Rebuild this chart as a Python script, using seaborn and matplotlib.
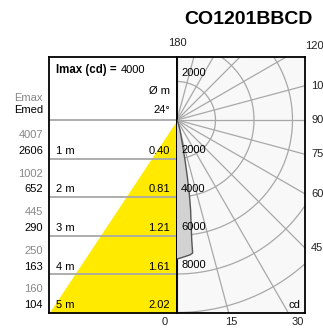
import matplotlib.pyplot as plt
import numpy as np
import pandas as pd
import seaborn as sns

sns.set_theme(style='white')
plt.rcParams['font.family'] = ['Liberation Sans', 'DejaVu Sans']
plt.rcParams['text.color'] = 'black'

# duomenys
pavadinimas = 'CO1201BBCD'
imax = 4000
spindulio_kampas = 24
atstumai = [1, 2, 3, 4, 5]
e_max = [4007, 1002, 445, 250, 160]
e_med = [2606, 652, 290, 163, 104]
diametrai = [0.40, 0.81, 1.21, 1.61, 2.02]

apskritimai = [2000, 4000, 6000, 8000, 10000, 12000, 14000]
apskr_etiketes = [2000, 4000, 6000, 8000]
spinduliai = [0, 15, 30, 45, 60, 75, 90, 105, 120, 135, 150, 165, 180]
kampai_desine = [120, 105, 90, 75, 60, 45]
kampai_apacia = ['0', '15', '30']

kreive_kampai = [0, 1.5, 3.5, 5.5, 6.7, 7.0, 7.6, 8.6, 9.5, 10.3, 11.3, 12.8, 16.7, 20, 25, 30]
kreive_cd = [7220, 7170, 7100, 7040, 6960, 6280, 5590, 4730, 3860, 2990, 2120, 1240, 540, 200, 50, 0]

# skale: 38.5 px = 2000 cd
cd_px = 2000 / 38.5
plotis = 128 * cd_px
apacia = 193 * cd_px
virsus = 63 * cd_px

fig = plt.figure(figsize=(3.23, 3.29), dpi=100)
ax_t = fig.add_axes([49 / 323, 1 - 313 / 329, 128 / 323, 256 / 329])
ax_p = fig.add_axes([177 / 323, 1 - 313 / 329, 128 / 323, 256 / 329])

pilka = '#a8a8a8'

# lentele
ax_t.set_facecolor('white')
ax_t.set_xlim(0, 1)
ax_t.set_ylim(5, -(120 - 57) / 38.6)
d = np.array([0] + atstumai)
ax_t.fill_betweenx(d, 1 - d / max(atstumai), 1, color='#ffea00', lw=0)
for m in [0] + atstumai[:-1]:
    ax_t.axhline(m, color=pilka, lw=1.3)
for m, a, b, dm in zip(atstumai, e_max, e_med, diametrai):
    ax_t.text(-0.047, m - 0.61, str(a), ha='right', va='center', fontsize=8, color='#888888')
    ax_t.text(-0.047, m - 0.2, str(b), ha='right', va='center', fontsize=8)
    ax_t.text(0.055, m - 0.2, f'{m} m', ha='left', va='center', fontsize=8)
    ax_t.text(0.945, m - 0.2, f'{dm:.2f}', ha='right', va='center', fontsize=8)
ax_t.text(-0.047, -0.57, 'Emax', ha='right', va='center', fontsize=8, color='#888888')
ax_t.text(-0.047, -0.26, 'Emed', ha='right', va='center', fontsize=8)
ax_t.text(0.055, -1.3, 'Imax (cd) =', ha='left', va='center', fontsize=8.3, fontweight='bold')
ax_t.text(0.5625, -1.3, str(imax), ha='left', va='center', fontsize=8)
ax_t.text(0.945, -0.75, 'Ø m', ha='right', va='center', fontsize=8)
ax_t.text(0.945, -0.26, f'{spindulio_kampas}°', ha='right', va='center', fontsize=8)
ax_t.set_xticks([])
ax_t.set_yticks([])

# poline diagrama
ax_p.set_facecolor('#f8f8f8')
ax_p.set_xlim(0, plotis)
ax_p.set_ylim(-apacia, virsus)
t = np.radians(np.linspace(0, 180, 200))
for r in apskritimai:
    ax_p.plot(r * np.sin(t), -r * np.cos(t), color=pilka, lw=0.9)
for k in spinduliai:
    a = np.radians(k)
    ax_p.plot([0, 20000 * np.sin(a)], [0, -20000 * np.cos(a)], color=pilka, lw=0.9)

ka = np.radians(kreive_kampai)
kreive = pd.DataFrame({'x': np.array(kreive_cd) * np.sin(ka),
                       'y': -np.array(kreive_cd) * np.cos(ka)})
ax_p.fill(kreive['x'], kreive['y'], color='#d2d2d2', lw=0, zorder=3)
sns.lineplot(data=kreive, x='x', y='y', sort=False, estimator=None, color='#555555', lw=1, ax=ax_p, zorder=4)

for r in apskr_etiketes:
    ax_p.text(4 * cd_px, -r + 8.5 * cd_px, str(r), ha='left', va='center', fontsize=8, zorder=5)
ax_p.text(4 * cd_px, 2000 + 8.5 * cd_px, '2000', ha='left', va='center', fontsize=8, zorder=5)
ax_p.text(0.96, 0.031, 'cd', transform=ax_p.transAxes, ha='right', va='center', fontsize=8)

ax_p.text(0, (313 - 43) / 256, '180', transform=ax_p.transAxes, ha='center', va='center',
          fontsize=8, color='#222222', clip_on=False)
for k in kampai_desine:
    y = -plotis / np.tan(np.radians(k))
    x_px = 305 if k == 120 else 311
    ax_p.text((x_px - 177) / 128 * plotis, y, str(k), ha='left', va='center', fontsize=8,
              color='#222222', clip_on=False)
for lbl, x_px in zip(kampai_apacia, [165, 231, 298]):
    ax_p.text((x_px - 177) / 128, -0.035, lbl, transform=ax_p.transAxes, ha='center', va='center',
              fontsize=8, color='#222222', clip_on=False)
ax_p.set_xticks([])
ax_p.set_yticks([])
ax_p.set_xlabel('')
ax_p.set_ylabel('')

for ax in [ax_t, ax_p]:
    for s in ax.spines.values():
        s.set_color('black')
        s.set_linewidth(1.3)
        s.set_visible(True)

fig.text(248 / 323, 1 - 19 / 329, pavadinimas, ha='center', va='center', fontsize=14, fontweight='bold')

plt.savefig('out.png', dpi=100)
